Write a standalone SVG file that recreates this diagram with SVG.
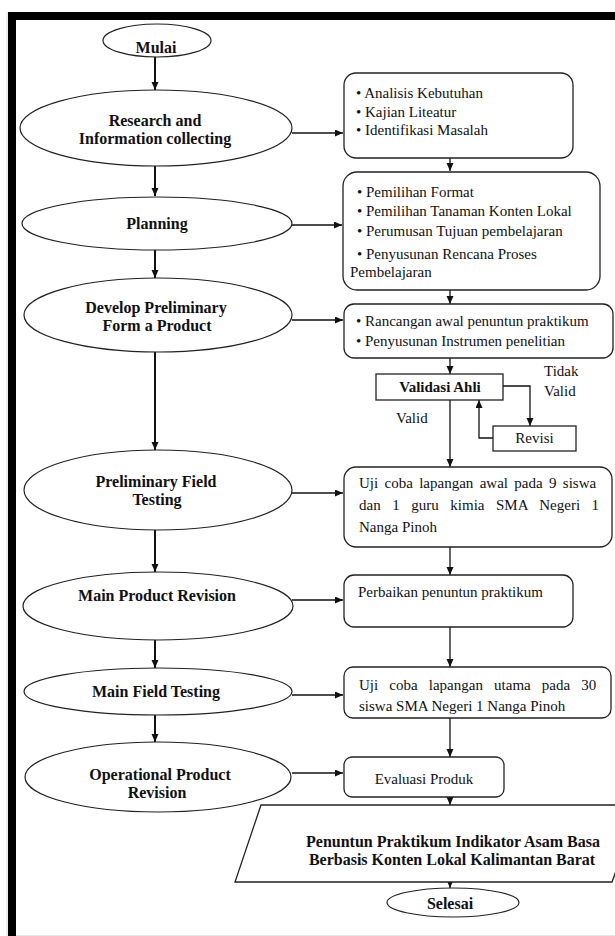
<svg xmlns="http://www.w3.org/2000/svg" width="615" height="936" viewBox="0 0 615 936">
<style>
.el{fill:#fff;stroke:#222;stroke-width:1.2}
.bx{fill:#fff;stroke:#222;stroke-width:1.3}
.tb{font-family:"Liberation Serif","Times New Roman",serif;font-size:16px;font-weight:bold;fill:#111;text-anchor:middle}
.tr{font-family:"Liberation Serif","Times New Roman",serif;font-size:15px;fill:#111}
.tm{text-anchor:middle}
.c{fill:none;stroke:#111;stroke-width:1.3}
.ck{fill:none;stroke:#111;stroke-width:2}
</style>
<defs>
<marker id="ah" markerUnits="userSpaceOnUse" markerWidth="8" markerHeight="8" refX="8" refY="3.5" orient="auto"><path d="M0,0 L8,3.5 L0,7 z" fill="#111"/></marker>
</defs>
<rect x="0" y="0" width="615" height="936" fill="#fff"/>
<g id="frame">
<rect x="8" y="12" width="607" height="8" fill="#000"/>
<rect x="8" y="12" width="8" height="924" fill="#000"/>
<line x1="7" y1="12" x2="7" y2="936" stroke="#ddd" stroke-width="1"/>
<line x1="16" y1="935.5" x2="615" y2="935.5" stroke="#e6e6e6" stroke-width="1"/>
</g>
<g id="connectors">
<path class="ck" d="M155,57 V90" marker-end="url(#ah)"/>
<path class="ck" d="M155,166 V196" marker-end="url(#ah)"/>
<path class="ck" d="M155,250 V278" marker-end="url(#ah)"/>
<path class="ck" d="M155,352 V450" marker-end="url(#ah)"/>
<path class="ck" d="M155,530 V572" marker-end="url(#ah)"/>
<path class="ck" d="M155,640 V668" marker-end="url(#ah)"/>
<path class="ck" d="M155,715 V742" marker-end="url(#ah)"/>
<path class="c" d="M292,133 H343" marker-end="url(#ah)"/>
<path class="c" d="M292,225 H342" marker-end="url(#ah)"/>
<path class="c" d="M292,320 H343" marker-end="url(#ah)"/>
<path class="c" d="M292,493 H343" marker-end="url(#ah)"/>
<path class="c" d="M292,600 H343" marker-end="url(#ah)"/>
<path class="c" d="M292,695 H343" marker-end="url(#ah)"/>
<path class="c" d="M292,773 H343" marker-end="url(#ah)"/>
<path class="c" d="M450,158 V171" marker-end="url(#ah)"/>
<path class="c" d="M450,290 V304" marker-end="url(#ah)"/>
<path class="c" d="M450,358 V374" marker-end="url(#ah)"/>
<path class="c" d="M503,386 H530 V426" marker-end="url(#ah)"/>
<path class="c" d="M493,438 H479 V400" marker-end="url(#ah)"/>
<path class="c" d="M450,400 V467" marker-end="url(#ah)"/>
<path class="c" d="M450,547 V575" marker-end="url(#ah)"/>
<path class="c" d="M450,627 V667" marker-end="url(#ah)"/>
<path class="c" d="M450,718 V757" marker-end="url(#ah)"/>
<path class="c" d="M450,797 V805" marker-end="url(#ah)"/>
<path class="c" d="M450,882 V888" marker-end="url(#ah)"/>
</g>
<g id="mulai">
<ellipse class="el" cx="157" cy="40.5" rx="54" ry="16.5"/>
<text class="tb" x="156" y="53">Mulai</text>
</g>
<g id="research">
<ellipse class="el" cx="156" cy="128" rx="136" ry="38"/>
<text class="tb" x="155" y="126">Research and</text>
<text class="tb" x="155" y="144">Information collecting</text>
</g>
<g id="box1">
<rect class="bx" x="344" y="73" width="229" height="85" rx="12"/>
<text class="tr" x="356" y="98">• Analisis Kebutuhan</text>
<text class="tr" x="356" y="116.5">• Kajian Liteatur</text>
<text class="tr" x="356" y="135">• Identifikasi Masalah</text>
</g>
<g id="planning">
<ellipse class="el" cx="157" cy="223.5" rx="135" ry="26.5"/>
<text class="tb" x="157" y="229">Planning</text>
</g>
<g id="box2">
<rect class="bx" x="343" y="172" width="257" height="118" rx="14"/>
<text class="tr" x="357" y="197">• Pemilihan Format</text>
<text class="tr" x="357" y="216">• Pemilihan Tanaman Konten Lokal</text>
<text class="tr" x="357" y="236">• Perumusan Tujuan pembelajaran</text>
<text class="tr" x="357" y="259">• Penyusunan Rencana Proses</text>
<text class="tr" x="350" y="277">Pembelajaran</text>
</g>
<g id="develop">
<ellipse class="el" cx="158" cy="315" rx="134" ry="37"/>
<text class="tb" x="156" y="313">Develop Preliminary</text>
<text class="tb" x="157" y="331">Form a Product</text>
</g>
<g id="box3">
<rect class="bx" x="344" y="304" width="269" height="54" rx="10"/>
<text class="tr" x="356" y="326">• Rancangan awal penuntun praktikum</text>
<text class="tr" x="356" y="346">• Penyusunan Instrumen penelitian</text>
</g>
<g id="validasi">
<rect class="bx" x="376" y="374" width="127" height="26"/>
<text class="tb" x="440" y="392" style="font-size:15px">Validasi Ahli</text>
</g>
<g id="revisi">
<rect class="bx" x="493" y="426" width="83" height="25"/>
<text class="tr tm" x="534.5" y="443">Revisi</text>
</g>
<g id="labels">
<text class="tr" x="544" y="376">Tidak</text>
<text class="tr" x="544" y="396">Valid</text>
<text class="tr" x="396" y="423">Valid</text>
</g>
<g id="preliminary">
<ellipse class="el" cx="158" cy="490" rx="134" ry="40"/>
<text class="tb" x="156" y="487">Preliminary Field</text>
<text class="tb" x="157" y="505">Testing</text>
</g>
<g id="box4">
<rect class="bx" x="344" y="467" width="268" height="80" rx="12"/>
<text class="tr" x="359" y="488" word-spacing="2.6">Uji coba lapangan awal pada 9 siswa</text>
<text class="tr" x="359" y="510" word-spacing="7.8">dan 1 guru kimia SMA Negeri 1</text>
<text class="tr" x="359" y="532">Nanga Pinoh</text>
</g>
<g id="mainproduct">
<ellipse class="el" cx="158" cy="606" rx="135" ry="34"/>
<text class="tb" x="157" y="601">Main Product Revision</text>
</g>
<g id="box5">
<rect class="bx" x="344" y="575" width="229" height="52" rx="10"/>
<text class="tr" x="358" y="597">Perbaikan penuntun praktikum</text>
</g>
<g id="mainfield">
<ellipse class="el" cx="158" cy="691.5" rx="134" ry="23.5"/>
<text class="tb" x="156" y="697">Main Field Testing</text>
</g>
<g id="box6">
<rect class="bx" x="344" y="667" width="267" height="51" rx="9"/>
<text class="tr" x="359" y="690" word-spacing="7.4">Uji coba lapangan utama pada 30</text>
<text class="tr" x="359" y="711">siswa SMA Negeri 1 Nanga Pinoh</text>
</g>
<g id="operational">
<ellipse class="el" cx="158" cy="777" rx="133" ry="35"/>
<text class="tb" x="160" y="780">Operational Product</text>
<text class="tb" x="157" y="798">Revision</text>
</g>
<g id="box7">
<rect class="bx" x="344" y="757" width="160" height="40" rx="8"/>
<text class="tr tm" x="424" y="784">Evaluasi Produk</text>
</g>
<g id="output">
<path class="bx" d="M261,805 H640 L612,882 H235 Z"/>
<text class="tb" x="453" y="847">Penuntun Praktikum Indikator Asam Basa</text>
<text class="tb" x="452" y="865">Berbasis Konten Lokal Kalimantan Barat</text>
</g>
<g id="selesai">
<ellipse class="el" cx="453" cy="902.5" rx="66" ry="14.5"/>
<text class="tb" x="450" y="909">Selesai</text>
</g>
</svg>
